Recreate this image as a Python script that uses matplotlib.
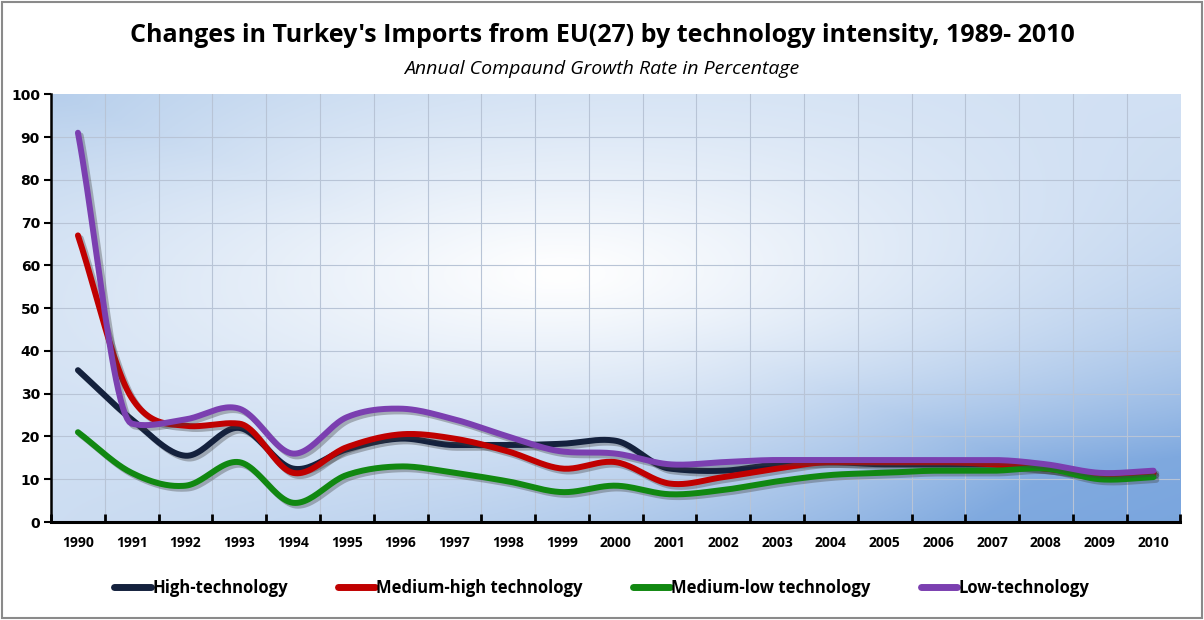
import numpy as np
import matplotlib
matplotlib.use("Agg")
import matplotlib.pyplot as plt
import matplotlib.patheffects as pe
from matplotlib.lines import Line2D

years = [str(y) for y in range(1990, 2011)]
high_tech = [35.5, 24, 15.5, 22, 12.5, 17, 19.5, 18, 18, 18.3, 19, 12.5, 12, 13.5, 14, 13.5, 13.5, 13.5, 12.5, 11, 11.5]
medium_high = [67, 29, 22.5, 23, 11.5, 17.5, 20.5, 19.5, 16.5, 12.5, 14, 9, 10.5, 12.5, 14, 14, 14, 13.5, 12.5, 11, 11.5]
medium_low = [21, 11.5, 8.5, 14, 4.5, 11, 13, 11.5, 9.5, 7, 8.5, 6.5, 7.5, 9.5, 11, 11.5, 12, 12, 12.5, 10, 10.5]
low_tech = [91, 23, 24, 26.5, 16, 24.5, 26.5, 24, 20, 16.5, 16, 13.5, 14, 14.5, 14.5, 14.5, 14.5, 14.5, 13.5, 11.5, 12]

series_names = ["High-technology", "Medium-high technology", "Medium-low technology", "Low-technology"]
series_values = [high_tech, medium_high, medium_low, low_tech]
series_colors = ["#14213d", "#c00000", "#118811", "#7b3fb0"]

title = "Changes in Turkey's Imports from EU(27) by technology intensity, 1989- 2010"
subtitle = "Annual Compaund Growth Rate in Percentage"

FONT = ["Open Sans", "DejaVu Sans"]
plt.rcParams['font.family'] = FONT


def smooth(x, y, n=24):
    # Bezier smoothing (Excel-like), tangents limited to avoid large overshoot
    x = np.asarray(x, float); y = np.asarray(y, float)
    m = len(x)
    sec = np.diff(y) / np.diff(x)
    tan = np.zeros(m)
    tan[0] = sec[0]; tan[-1] = sec[-1]
    for i in range(1, m - 1):
        t = (y[i + 1] - y[i - 1]) / (x[i + 1] - x[i - 1])
        a, b = sec[i - 1], sec[i]
        lim = 3 * min(abs(a), abs(b))
        t = np.sign(t) * min(abs(t), lim)
        tan[i] = t
    xs, ys = [], []
    for i in range(m - 1):
        h = x[i + 1] - x[i]
        t = np.linspace(0, 1, n, endpoint=False)
        h00 = 2 * t**3 - 3 * t**2 + 1
        h10 = t**3 - 2 * t**2 + t
        h01 = -2 * t**3 + 3 * t**2
        h11 = t**3 - t**2
        xs.append(x[i] + t * h)
        ys.append(h00 * y[i] + h10 * h * tan[i] + h01 * y[i + 1] + h11 * h * tan[i + 1])
    xs.append([x[-1]]); ys.append([y[-1]])
    return np.concatenate(xs), np.concatenate(ys)


fig = plt.figure(figsize=(12.04, 6.2), dpi=100)
fig.patch.set_facecolor("white")
fig.add_artist(plt.Rectangle((0.002, 0.004), 0.996, 0.992, transform=fig.transFigure,
                             fill=False, edgecolor="#8a8a8a", linewidth=1.5))

ax = fig.add_axes([0.0424, 0.158, 0.938, 0.690])

# gradient background
nx, ny = 400, 200
gx = np.linspace(0, 1, nx)
gy = np.linspace(1, 0, ny)  # row 0 = top
GX, GY = np.meshgrid(gx, gy)
d = np.sqrt(((GX - 0.45) / 0.85) ** 2 + ((GY - 0.58) / 0.78) ** 2)
d = np.clip(d, 0, 1)
anti = 1 - 0.6 * np.abs(GX + GY - 1)
blue = np.clip(d ** 1.25 * anti * 1.35, 0, 1)[..., None]
light = np.array([1.0, 1.0, 1.0])
tl = np.array([0.70, 0.80, 0.92])
br = np.array([0.48, 0.65, 0.87])
w = np.clip((GX + (1 - GY)) / 2.0, 0, 1)[..., None]
edge = tl * (1 - w) + br * w
img = light * (1 - blue) + edge * blue
ax.imshow(img, extent=[-0.5, 20.5, 0, 100], origin="upper", aspect="auto", zorder=0)

x = np.arange(len(years))
for name, vals, col in zip(series_names, series_values, series_colors):
    sx, sy = smooth(x, vals)
    ax.plot(sx, sy, color=col, linewidth=4.3, solid_capstyle="round", zorder=3,
            path_effects=[pe.SimpleLineShadow(offset=(2, -2), shadow_color="#404040", alpha=0.35, rho=1),
                          pe.Normal()])

ax.set_xlim(-0.5, 20.5)
ax.set_ylim(0, 100)
ax.set_yticks(np.arange(0, 101, 10))
ax.set_yticklabels([str(v) for v in range(0, 101, 10)], fontsize=10, fontweight="bold",
                   family=["DejaVu Sans"])
ax.set_xticks(x)
ax.set_xticklabels(years, fontsize=10, fontweight="bold")
ax.set_xticks(np.arange(-0.5, 20.6, 1), minor=True)
ax.tick_params(axis="x", which="major", length=0, pad=10)
ax.tick_params(axis="x", which="minor", length=6, width=2, direction="in", color="black")
ax.tick_params(axis="y", which="major", length=5, width=1.5, direction="out", color="black", pad=3)
ax.grid(False)
for v in np.arange(10, 100, 10):
    ax.axhline(v, color="#b8c4d6", linewidth=0.8, zorder=1)
for v in np.arange(0.5, 20.5, 1):
    ax.axvline(v, color="#b8c4d6", linewidth=0.8, zorder=1)
for s in ["top", "right"]:
    ax.spines[s].set_visible(False)
ax.spines["left"].set_linewidth(1.8)
ax.spines["bottom"].set_linewidth(2.2)

fig.text(0.5, 0.942, title, ha="center", va="center", fontsize=18, fontweight="bold")
fig.text(0.5, 0.888, subtitle, ha="center", va="center", fontsize=14, style="italic")

handles = [Line2D([0], [0], color=c, linewidth=5, solid_capstyle="round") for c in series_colors]
leg = fig.legend(handles, series_names, loc="center", bbox_to_anchor=(0.5, 0.052), ncol=4,
                 frameon=False, fontsize=12, handlelength=2.2, handletextpad=0.1, columnspacing=3.0)
for t in leg.get_texts():
    t.set_fontweight("bold")

fig.savefig("out.png", dpi=100)
